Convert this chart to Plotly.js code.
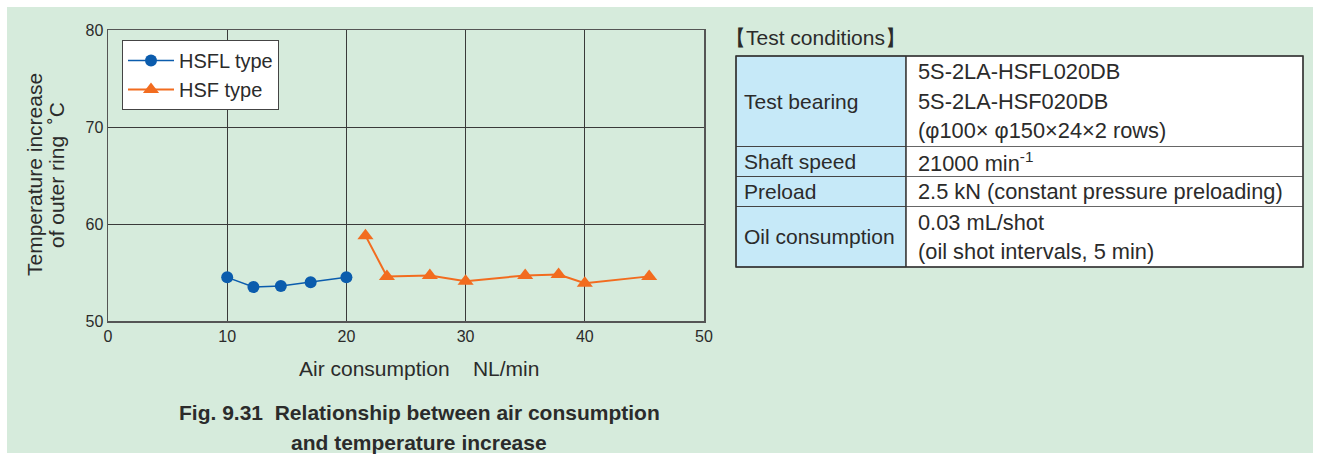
<!DOCTYPE html>
<html>
<head>
<meta charset="utf-8">
<script src="https://cdn.plot.ly/plotly-3.0.1.min.js"></script>
<style>html,body{margin:0;padding:0;background:#fff;}#chart{width:1318px;height:457px;}</style>
</head>
<body>
<div id="chart"></div>
<script>
// ---- data ----
const hsflAir = [10, 12.2, 14.5, 17, 20];
const hsflTemp = [54.5, 53.5, 53.6, 54.0, 54.5];
const hsfAir = [21.6, 23.4, 27, 30, 35, 37.8, 40, 45.4];
const hsfTemp = [58.8, 54.6, 54.7, 54.1, 54.7, 54.8, 53.9, 54.6];
const seriesNames = ["HSFL type", "HSF type"];
const xTicks = [0, 10, 20, 30, 40, 50];
const yTicks = [50, 60, 70, 80];
const tableLabels = ["Test bearing", "Shaft speed", "Preload", "Oil consumption"];
const tableValues = [
  ["5S-2LA-HSFL020DB", "5S-2LA-HSF020DB", "(φ100× φ150×24×2 rows)"],
  ["21000 min<sup>-1</sup>"],
  ["2.5 kN (constant pressure preloading)"],
  ["0.03 mL/shot", "(oil shot intervals, 5 min)"]
];
const tableTitle = "【Test conditions】";
const xTitle = "Air consumption    NL/min";
const yTitleLines = ["Temperature increase", "of outer ring  ˚C"];
const caption = ["Fig. 9.31  Relationship between air consumption", "and temperature increase"];

// ---- layout helpers ----
const W = 1318, H = 457;
const px = x => x / W;
const py = y => 1 - y / H;
const FONT = "Liberation Sans, Arial, sans-serif";
const TXT = "#2b2b2b";
const FS = 21;

const traces = [
  {x: hsflAir, y: hsflTemp, name: seriesNames[0], type: "scatter", mode: "lines+markers",
   line: {color: "#0b5cad", width: 1.5}, marker: {symbol: "circle", size: 12, color: "#0b5cad"}},
  {x: hsfAir, y: hsfTemp, name: seriesNames[1], type: "scatter", mode: "lines+markers",
   line: {color: "#f26c1f", width: 2}, marker: {symbol: "triangle-up", size: 14, color: "#f26c1f"}}
];

const shapes = [];
const annotations = [];
// green background panel
shapes.push({type: "rect", xref: "paper", yref: "paper", x0: px(7), x1: px(1313), y0: py(453), y1: py(7),
  fillcolor: "#d6ebdc", line: {width: 0}, layer: "below"});

// table geometry
const tL = 736, tM = 906, tR = 1303;
const rowLines = [56, 146.5, 176.5, 206.5, 267];
for (let i = 0; i < 4; i++) {
  shapes.push({type: "rect", xref: "paper", yref: "paper", x0: px(tL), x1: px(tM), y0: py(rowLines[i+1]), y1: py(rowLines[i]),
    fillcolor: "#c6e9f8", line: {color: "#444", width: 1}, layer: "above"});
  shapes.push({type: "rect", xref: "paper", yref: "paper", x0: px(tM), x1: px(tR), y0: py(rowLines[i+1]), y1: py(rowLines[i]),
    fillcolor: "#ffffff", line: {color: "#666", width: 1}, layer: "above"});
  const mid = (rowLines[i] + rowLines[i+1]) / 2;
  annotations.push({xref: "paper", yref: "paper", x: px(742), y: py(mid), xanchor: "left", yanchor: "middle",
    text: tableLabels[i], showarrow: false, font: {family: FONT, size: FS, color: TXT}});
  const vals = tableValues[i];
  const step = 29.5;
  vals.forEach((v, j) => {
    const yy = mid + (j - (vals.length - 1) / 2) * step;
    annotations.push({xref: "paper", yref: "paper", x: px(916), y: py(yy), xanchor: "left", yanchor: "middle",
      text: v, showarrow: false, font: {family: FONT, size: 21.8, color: TXT}});
  });
}
// outer border
shapes.push({type: "rect", xref: "paper", yref: "paper", x0: px(tL), x1: px(tR), y0: py(267), y1: py(56),
  line: {color: "#333", width: 1.5}, layer: "above"});
shapes.push({type: "line", xref: "paper", yref: "paper", x0: px(tM), x1: px(tM), y0: py(267), y1: py(56),
  line: {color: "#333", width: 1.2}, layer: "above"});

annotations.push({xref: "paper", yref: "paper", x: px(723), y: py(37), xanchor: "left", yanchor: "middle",
  text: tableTitle, showarrow: false, font: {family: FONT, size: FS, color: TXT}});

// axis titles
annotations.push({xref: "paper", yref: "paper", x: px(419), y: py(368), xanchor: "center", yanchor: "middle",
  text: xTitle, showarrow: false, font: {family: FONT, size: FS, color: TXT}});
annotations.push({xref: "paper", yref: "paper", x: px(34), y: py(175), xanchor: "center", yanchor: "middle",
  text: yTitleLines[0], textangle: -90, showarrow: false, font: {family: FONT, size: FS, color: TXT}});
annotations.push({xref: "paper", yref: "paper", x: px(56), y: py(175), xanchor: "center", yanchor: "middle",
  text: yTitleLines[1], textangle: -90, showarrow: false, font: {family: FONT, size: FS, color: TXT}});
// caption
annotations.push({xref: "paper", yref: "paper", x: px(419), y: py(412), xanchor: "center", yanchor: "middle",
  text: "<b>" + caption[0] + "</b>", showarrow: false, font: {family: FONT, size: FS, color: TXT}});
annotations.push({xref: "paper", yref: "paper", x: px(419), y: py(442), xanchor: "center", yanchor: "middle",
  text: "<b>" + caption[1] + "</b>", showarrow: false, font: {family: FONT, size: FS, color: TXT}});

const layout = {
  width: W, height: H,
  margin: {l: 0, r: 0, t: 0, b: 0, pad: 0},
  paper_bgcolor: "#ffffff",
  plot_bgcolor: "#ffffff",
  font: {family: FONT, size: 16, color: TXT},
  xaxis: {domain: [px(108), px(704)], range: [0, 50], tickvals: xTicks, ticktext: xTicks.map(String),
    showgrid: true, gridcolor: "#3a3a3a", gridwidth: 1, zeroline: false,
    showline: true, mirror: true, linecolor: "#555", linewidth: 1.5,
    ticks: "", tickfont: {family: FONT, size: 16, color: TXT}, fixedrange: true},
  yaxis: {domain: [py(321), py(30)], range: [50, 80], tickvals: yTicks, ticktext: yTicks.map(String),
    showgrid: true, gridcolor: "#3a3a3a", gridwidth: 1, zeroline: false,
    showline: true, mirror: true, linecolor: "#555", linewidth: 1.5,
    ticks: "", tickfont: {family: FONT, size: 16, color: TXT}, fixedrange: true},
  showlegend: true,
  legend: {x: px(122), y: py(40), xanchor: "left", yanchor: "top", bgcolor: "#ffffff",
    bordercolor: "#444", borderwidth: 1, font: {family: FONT, size: 20, color: TXT},
    tracegroupgap: 0, itemwidth: 46},
  shapes: shapes,
  annotations: annotations
};

Plotly.newPlot("chart", traces, layout, {displayModeBar: false, staticPlot: true});
</script>
</body>
</html>
